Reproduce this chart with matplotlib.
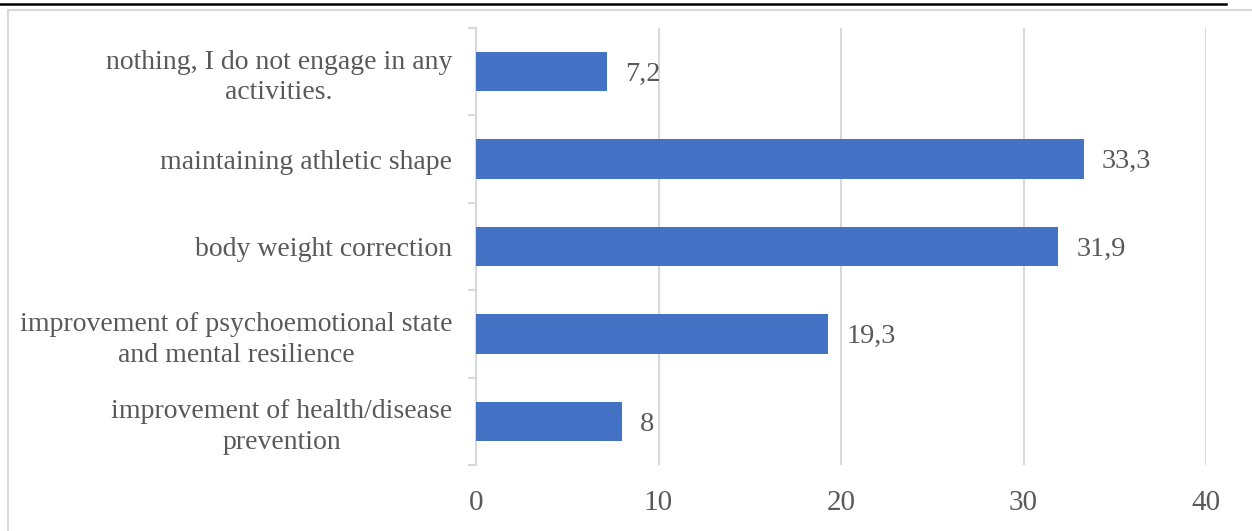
import matplotlib
matplotlib.use("Agg")
import matplotlib.pyplot as plt
from matplotlib.patches import Rectangle
from matplotlib.lines import Line2D

categories = [
    "improvement of health/disease\nprevention",
    "improvement of psychoemotional state\nand mental resilience",
    "body weight correction",
    "maintaining athletic shape",
    "nothing, I do not engage in any\nactivities.",
]
values = [8, 19.3, 31.9, 33.3, 7.2]
xticks = [0, 10, 20, 30, 40]

plt.rcParams['font.family'] = ['Liberation Serif', 'DejaVu Serif']
text_color = "#595959"
grid_color = "#d9d9d9"
bar_color = "#4472C4"

fig = plt.figure(figsize=(12.52, 5.31), dpi=100)
W, H = 1252, 531

# page rule and chart frame
fig.add_artist(Line2D([0, 1226 / W], [1 - 4 / H, 1 - 4 / H], color="black", lw=1.8))
fig.add_artist(Rectangle((8 / W, -0.1), 1.2, 1.1 - 10 / H, transform=fig.transFigure,
                         fill=False, edgecolor=grid_color, lw=1.5))

ax = fig.add_axes([476 / W, 1 - 465 / H, (1206 - 476) / W, (465 - 28) / H])
y = list(range(len(categories)))
bars = ax.barh(y, values, height=0.45, color=bar_color, zorder=3)

ax.set_xlim(0, 40)
ax.set_ylim(-0.5, len(categories) - 0.5)
ax.set_xticks(xticks)
ax.set_xticklabels([str(t) for t in xticks])
ax.grid(axis="x", color=grid_color, lw=1.5, zorder=0)
ax.tick_params(axis="x", length=0, pad=18, labelsize=21, labelcolor=text_color)

# category labels, Excel-style ticks between categories
ax.set_yticks(y)
ax.set_yticklabels(categories, multialignment="center", linespacing=1.3)
ax.tick_params(axis="y", which="major", length=0, pad=17, labelsize=20, labelcolor=text_color)
ax.set_yticks([i - 0.5 for i in range(len(categories) + 1)], minor=True)
ax.tick_params(axis="y", which="minor", length=6, width=1.5, color=grid_color)

for s in ["top", "right", "bottom"]:
    ax.spines[s].set_visible(False)
ax.spines["left"].set_color(grid_color)
ax.spines["left"].set_linewidth(1.5)

for b, v in zip(bars, values):
    lbl = f"{v:g}".replace(".", ",")
    ax.annotate(lbl, (b.get_width(), b.get_y() + b.get_height() / 2),
                xytext=(13, -2), textcoords="offset points", va="center", ha="left",
                fontsize=20.5, color=text_color)

fig.savefig("out.png", dpi=100)
